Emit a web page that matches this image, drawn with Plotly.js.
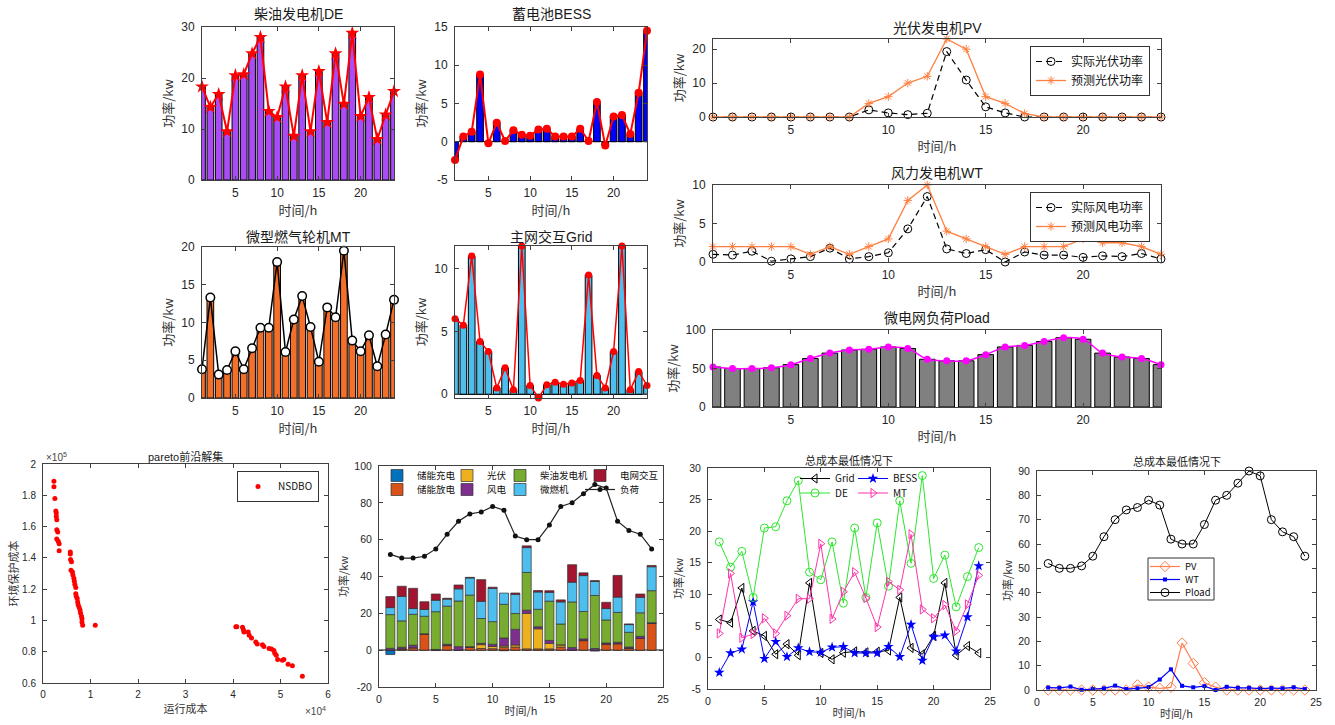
<!DOCTYPE html>
<html><head><meta charset="utf-8">
<script src="https://cdn.plot.ly/plotly-3.0.1.min.js"></script>
<style>html,body{margin:0;padding:0;background:#fff;}#chart{width:1335px;height:725px;}</style>
</head><body><div id="chart"></div>
<script>
const W = 1335, H = 725;

// ---------------- data ----------------
const hours = [1,2,3,4,5,6,7,8,9,10,11,12,13,14,15,16,17,18,19,20,21,22,23,24];
const DE   = [18.3,14.3,16.8,9.5,20.5,20.7,24.8,28.0,13.5,12.3,18.3,8.6,20.5,9.5,21.3,11.3,24.8,14.9,28.8,12.5,16.2,8.0,12.8,17.4];
const BESS = [-2.4,0.7,1.3,8.8,-0.2,2.5,0.1,1.5,0.9,0.8,1.6,1.7,0.7,0.7,0.7,1.7,0.1,5.2,-0.5,3.3,3.5,1.0,6.4,14.5];
const MT   = [3.8,13.3,3.1,3.7,6.2,3.8,6.6,9.3,9.3,18.0,6.1,10.4,13.5,9.4,4.8,12.0,10.7,19.5,7.6,6.2,8.3,4.2,8.4,13.0];
const GRID = [6.0,5.5,11.0,4.2,3.4,0.5,2.1,0.35,11.8,0.7,-0.3,0.75,0.95,0.8,0.9,1.1,9.5,1.5,0.5,3.4,11.8,0.35,1.8,0.7];
const PV_actual   = [0,0,0,0,0,0,0,0,2.1,1.2,0.7,1.1,19.3,10.9,3.0,1.2,0,0,0,0,0,0,0,0];
const PV_forecast = [0,0,0,0,0,0,0,0,4,6,10,12,23,20,6,4,1,0,0,0,0,0,0,0];
const WT_actual   = [1.0,0.9,1.4,0.1,0.4,0.7,1.8,0.4,0.7,1.2,4.3,8.5,1.7,1.1,1.6,0.0,1.3,0.9,0.9,0.6,0.8,0.7,1.1,0.4];
const WT_forecast = [2,2,2,2,2,1,2,1,2,3,8,10,4,3,2,1,2,2,2,3,2.5,2.5,2,1];
const PLOAD = [52,50,50,51,55,63,70,74,75,78,76,62,60,60,68,78,80,85,90,88,70,65,63,55];

const paretoOpCost = [2300,2300,2500,2700,2800,2800,2900,2900,3100,2900,3200,3400,3400,5750,5750,5800,6000,5900,6200,6300,6500,6600,6700,6900,6900,7000,7200,7300,7400,7600,7800,7900,8100,8200,8200,8350,11000,
  40600,40800,42000,42200,42300,43200,43400,43900,44800,45100,46200,46500,47600,48100,48600,48800,49100,49400,50400,50700,51600,52500,54600];
const paretoEnvCost = [189000,185500,178000,170000,168700,166500,164400,158000,156500,152000,150600,149000,144600,143700,142500,139000,137500,132000,131000,129000,127000,125000,123000,121000,117000,115400,114000,111800,110000,108400,106700,104800,102600,101100,99000,96900,96900,
  96000,96000,95600,94000,92600,92600,90500,88800,86200,85000,84500,83400,82000,81700,80700,79000,77700,75000,74500,75000,72000,71000,64300];

const tickHours = [5,10,15,20];
const tick0to25 = [0,5,10,15,20,25];
const paretoXTicks = [0,10000,20000,30000,40000,50000,60000];
const paretoXText = ['0','1','2','3','4','5','6'];
const paretoYTicks = [60000,80000,100000,120000,140000,160000,180000,200000];
const paretoYText = ['0.6','0.8','1','1.2','1.4','1.6','1.8','2'];

// derived stacks for the dispatch chart
const bessCharge = BESS.map(v => v < 0 ? v : 0);
const bessDischarge = BESS.map(v => v > 0 ? v : 0);

// ---------------- style ----------------
const FONT = '"Liberation Sans", Arial, "Noto Sans CJK SC", sans-serif';
const CJK = '"Noto Sans CJK SC", "Liberation Sans", sans-serif';
const AXC = '#404040';

const boxes = {
  1: [202, 394, 27, 180],
  2: [455, 647, 27, 180],
  3: [202, 394, 247, 398],
  4: [455, 647, 246, 398],
  5: [713, 1161, 39, 117],
  6: [713, 1161, 185, 262],
  7: [713, 1161, 330, 407],
  8: [43, 328, 464, 683],
  9: [379, 663, 466, 687],
  10: [708, 990, 468, 689],
  11: [1037, 1316, 471, 690]
};

const layout = {
  width: W, height: H,
  margin: {l: 0, r: 0, t: 0, b: 0},
  paper_bgcolor: '#fff', plot_bgcolor: '#fff',
  barmode: 'relative',
  font: {family: FONT, color: '#262626'},
  annotations: [], shapes: []
};

function setAxes(i, c) {
  const [x0, x1, y0, y1] = boxes[i];
  const s = i === 1 ? '' : String(i);
  const base = {showline: true, mirror: 'ticks', linecolor: AXC, linewidth: 1, ticks: 'inside', ticklen: 4,
    tickcolor: AXC, showgrid: false, zeroline: false, fixedrange: true, tickmode: 'array',
    tickfont: {size: c.tf, color: '#262626', family: FONT}};
  layout['xaxis' + s] = Object.assign({}, base, {
    domain: [x0 / W, x1 / W], anchor: 'y' + s, range: c.xr, tickvals: c.xt, ticktext: c.xtt,
    ticklabelstandoff: c.xls || 2,
    title: {text: c.xl, font: {size: c.lf, family: CJK, color: '#333'}, standoff: c.xso}
  });
  layout['yaxis' + s] = Object.assign({}, base, {
    domain: [1 - y1 / H, 1 - y0 / H], anchor: 'x' + s, range: c.yr, tickvals: c.yt, ticktext: c.ytt,
    ticklabelstandoff: c.yls || 4,
    title: {text: c.yl, font: {size: c.lf, family: CJK, color: '#333'}, standoff: c.yso}
  }, c.yextra || {});
}

function title(i, text, cy, size) {
  const [x0, x1] = boxes[i];
  layout.annotations.push({text: text, xref: 'paper', yref: 'paper', x: (x0 + x1) / 2 / W, y: 1 - cy / H,
    xanchor: 'center', yanchor: 'middle', showarrow: false, font: {size: size, family: FONT, color: '#1a1a1a'}});
}

const zl = c => ({zeroline: true, zerolinecolor: c, zerolinewidth: 1});

setAxes(1, {xr: [1, 24], xt: tickHours, yr: [0, 30], yt: [0, 10, 20, 30], tf: 12, lf: 13, xl: '时间/h', yl: '功率/kw', xso: 5, yso: 4});
setAxes(2, {xr: [1, 24], xt: tickHours, yr: [-5, 15], yt: [-5, 0, 5, 10, 15], ytt: ['-5', '0', '5', '10', '15'], tf: 12, lf: 13, xl: '时间/h', yl: '功率/kw', xso: 5, yso: 4, yextra: zl('#222')});
setAxes(3, {xr: [1, 24], xt: tickHours, yr: [0, 20], yt: [0, 5, 10, 15, 20], tf: 12, lf: 13, xl: '时间/h', yl: '功率/kw', xso: 5, yso: 4});
setAxes(4, {xr: [1, 24], xt: tickHours, yr: [-0.3, 11.8], yt: [0, 5, 10], tf: 12, lf: 13, xl: '时间/h', yl: '功率/kw', xso: 5, yso: 4, yextra: zl('#222')});
setAxes(5, {xr: [1, 24], xt: tickHours, yr: [0, 23], yt: [0, 10, 20], tf: 12, lf: 13, xl: '时间/h', yl: '功率/kw', xso: 5, yso: 4});
setAxes(6, {xr: [1, 24], xt: tickHours, yr: [0, 10], yt: [0, 5, 10], tf: 12, lf: 13, xl: '时间/h', yl: '功率/kw', xso: 5, yso: 4});
setAxes(7, {xr: [1, 24], xt: tickHours, yr: [0, 100], yt: [0, 50, 100], tf: 12, lf: 13, xl: '时间/h', yl: '功率/kw', xso: 5, yso: 4});
setAxes(8, {xr: [0, 60000], xt: paretoXTicks, xtt: paretoXText, yr: [60000, 200000], yt: paretoYTicks, ytt: paretoYText, tf: 10, lf: 11, xl: '运行成本', yl: '环境保护成本', xso: 4, yso: 1});
setAxes(9, {xr: [0, 25], xt: tick0to25, yr: [-20, 100], yt: [-20, 0, 20, 40, 60, 80, 100], ytt: ['-20', '0', '20', '40', '60', '80', '100'], tf: 10.5, lf: 11, xl: '时间/h', yl: '功率/kw', xso: 3, yso: 3, yextra: {zeroline: true, zerolinecolor: '#888', zerolinewidth: 2}});
setAxes(10, {xr: [0, 25], xt: tick0to25, yr: [-5, 30], yt: [-5, 0, 5, 10, 15, 20, 25, 30], ytt: ['-5', '0', '5', '10', '15', '20', '25', '30'], tf: 10.5, lf: 11, xl: '时间/h', yl: '功率/kw', xso: 3, yso: 3});
setAxes(11, {xr: [0, 25], xt: tick0to25, yr: [0, 90], yt: [0, 10, 20, 30, 40, 50, 60, 70, 80, 90], tf: 10.5, lf: 11, xl: '时间/h', yl: '功率/kw', xso: 3, yso: 3});

title(1, '柴油发电机DE', 14, 14);
title(2, '蓄电池BESS', 14, 14);
title(3, '微型燃气轮机MT', 237, 14);
title(4, '主网交互Grid', 237, 14);
title(5, '光伏发电机PV', 28, 14);
title(6, '风力发电机WT', 173, 14);
title(7, '微电网负荷Pload', 318, 14);
title(8, 'pareto前沿解集', 456, 11);
title(10, '总成本最低情况下', 460, 11);
title(11, '总成本最低情况下', 461, 11);

layout.annotations.push({text: '×10<sup>5</sup>', xref: 'paper', yref: 'paper', x: 44 / W, y: 1 - 457 / H, xanchor: 'left', yanchor: 'middle', showarrow: false, font: {size: 10, color: '#444'}});
layout.annotations.push({text: '×10<sup>4</sup>', xref: 'paper', yref: 'paper', x: 328 / W, y: 1 - 711 / H, xanchor: 'right', yanchor: 'middle', showarrow: false, font: {size: 10, color: '#444'}});

// legends
function legBox(right, top, size) {
  return {x: right / W, xanchor: 'right', y: 1 - top / H, yanchor: 'top', bgcolor: '#fff', bordercolor: '#333', borderwidth: 1,
    font: {size: size, family: CJK, color: '#111'}, itemwidth: 30, tracegroupgap: 0, orientation: 'v'};
}
function legRow(left, cy, size) {
  return {x: left / W, xanchor: 'left', y: 1 - (cy - 14.5) / H, yanchor: 'top', bgcolor: 'rgba(0,0,0,0)', borderwidth: 0,
    font: {size: size, family: CJK, color: '#111'}, itemwidth: 30, orientation: 'h', tracegroupgap: 0};
}
layout.legend = legBox(1150, 46, 12);
layout.legend2 = legBox(1150, 192, 12);
layout.legend3 = legBox(319, 471, 10);
layout.legend4 = legRow(377, 475.5, 9.5);
layout.legend5 = legRow(377, 489.5, 9.5);
layout.legend6 = legRow(795, 478.5, 10);
layout.legend7 = legRow(795, 493, 10);
layout.legend8 = legRow(1145, 566.5, 9.5);
layout.legend9 = legRow(1145, 579.5, 9.5);
layout.legend10 = legRow(1145, 592.5, 9.5);
layout.shapes.push({type: 'rect', xref: 'paper', yref: 'paper', x0: 1148 / W, x1: 1214 / W, y0: 1 - 600 / H, y1: 1 - 558 / H, line: {color: '#333', width: 1}, fillcolor: 'rgba(0,0,0,0)'});

// ---------------- traces ----------------
const traces = [];
function barT(ax, y, color, extra) {
  return Object.assign({type: 'bar', x: hours, y: y, xaxis: 'x' + ax, yaxis: 'y' + ax, width: 0.8,
    marker: {color: color, line: {color: '#000', width: 1}}, showlegend: false, hoverinfo: 'skip'}, extra || {});
}
function lineT(ax, y, color, lw, marker, extra) {
  return Object.assign({type: 'scatter', mode: 'lines+markers', x: hours, y: y, xaxis: 'x' + ax, yaxis: 'y' + ax,
    line: {color: color, width: lw}, marker: marker, cliponaxis: false, showlegend: false, hoverinfo: 'skip'}, extra || {});
}

// top-left four
traces.push(barT('', DE, '#A94CF5'));
traces.push(lineT('', DE, '#ff0000', 2, {symbol: 'star', size: 10.5, color: '#ff0000'}));
traces.push(barT('2', BESS, '#0000ff'));
traces.push(lineT('2', BESS, '#ff0000', 2, {symbol: 'circle', size: 8, color: '#ff0000'}));
traces.push(barT('3', MT, '#F4702A'));
traces.push(lineT('3', MT, '#000', 1.5, {symbol: 'circle', size: 8.5, color: '#fff', line: {color: '#000', width: 1.5}}));
traces.push(barT('4', GRID, '#4DBEEE'));
traces.push(lineT('4', GRID, '#ff0000', 1.5, {symbol: 'circle', size: 7, color: '#ff0000'}));

// PV / WT
traces.push(lineT('5', PV_actual, '#000', 1.2, {symbol: 'circle-open', size: 8, color: '#000', line: {width: 1}},
  {name: '实际光伏功率', showlegend: true, legend: 'legend', line: {color: '#000', width: 1.2, dash: '6px,4px'}}));
traces.push(lineT('5', PV_forecast, '#ff7f40', 1.3, {symbol: 'asterisk-open', size: 7, color: '#ff7f40', line: {color: '#ff7f40', width: 1}},
  {name: '预测光伏功率', showlegend: true, legend: 'legend'}));
traces.push(lineT('6', WT_actual, '#000', 1.2, {symbol: 'circle-open', size: 8, color: '#000', line: {width: 1}},
  {name: '实际风电功率', showlegend: true, legend: 'legend2', line: {color: '#000', width: 1.2, dash: '6px,4px'}}));
traces.push(lineT('6', WT_forecast, '#ff7f40', 1.3, {symbol: 'asterisk-open', size: 7, color: '#ff7f40', line: {color: '#ff7f40', width: 1}},
  {name: '预测风电功率', showlegend: true, legend: 'legend2'}));

// Pload
traces.push(barT('7', PLOAD, '#808080'));
traces.push(lineT('7', PLOAD, '#ff00ff', 1.5, {symbol: 'circle', size: 7, color: '#ff00ff'}, {line: {color: '#ff00ff', width: 1.5, shape: 'spline'}}));

// Pareto
traces.push({type: 'scatter', mode: 'markers', x: paretoOpCost, y: paretoEnvCost, xaxis: 'x8', yaxis: 'y8', name: 'NSDBO',
  marker: {symbol: 'circle', size: 5, color: '#ff0000'}, legend: 'legend3', showlegend: true, cliponaxis: false, hoverinfo: 'skip'});

// stacked dispatch
function stackT(y, color, name, leg, lw) {
  return {type: 'bar', x: hours, y: y, xaxis: 'x9', yaxis: 'y9', width: 0.8, name: name, legend: leg, legendwidth: lw,
    marker: {color: color, line: {color: '#333', width: 0.7}}, hoverinfo: 'skip'};
}
traces.push(stackT(bessCharge, '#0072BD', '储能充电', 'legend4', 25));
traces.push(stackT(bessDischarge, '#D95319', '储能放电', 'legend5', 25));
traces.push(stackT(PV_actual, '#EDB120', '光伏', 'legend4', 8));
traces.push(stackT(WT_actual, '#7E2F8E', '风电', 'legend5', 8));
traces.push(stackT(DE, '#77AC30', '柴油发电机', 'legend4', 35));
traces.push(stackT(MT, '#4DBEEE', '微燃机', 'legend5', 35));
traces.push(stackT(GRID, '#A2142F', '电网交互', 'legend4', 40));
traces.push(lineT('9', PLOAD, '#222', 1.2, {symbol: 'circle', size: 5, color: '#111'}, {name: '负荷', showlegend: true, legend: 'legend5', legendwidth: 30}));

// cost lines
traces.push(lineT('10', GRID, '#000', 1, {symbol: 'triangle-left-open', size: 8, color: '#000'}, {name: 'Grid', showlegend: true, legend: 'legend6', legendwidth: 13}));
traces.push(lineT('10', BESS, '#0000ff', 1, {symbol: 'star', size: 8, color: '#0000ff'}, {name: 'BESS', showlegend: true, legend: 'legend6', legendwidth: 30}));
traces.push(lineT('10', DE, '#2ee62e', 1, {symbol: 'circle-open', size: 8, color: '#2ee62e'}, {name: 'DE', showlegend: true, legend: 'legend7', legendwidth: 13}));
traces.push(lineT('10', MT, '#ff33aa', 1, {symbol: 'triangle-right-open', size: 8, color: '#ff33aa'}, {name: 'MT', showlegend: true, legend: 'legend7', legendwidth: 30}));

// last panel
traces.push(lineT('11', PV_actual, '#ff7f50', 1.2, {symbol: 'diamond-open', size: 8, color: '#ff7f50'}, {name: 'PV', showlegend: true, legend: 'legend8'}));
traces.push(lineT('11', WT_actual, '#0000ff', 1.2, {symbol: 'square', size: 4, color: '#0000ff'}, {name: 'WT', showlegend: true, legend: 'legend9'}));
traces.push(lineT('11', PLOAD, '#000', 1, {symbol: 'circle-open', size: 8, color: '#000'}, {name: 'Pload', showlegend: true, legend: 'legend10'}));

Plotly.newPlot('chart', traces, layout, {staticPlot: true, displayModeBar: false});
</script></body></html>
